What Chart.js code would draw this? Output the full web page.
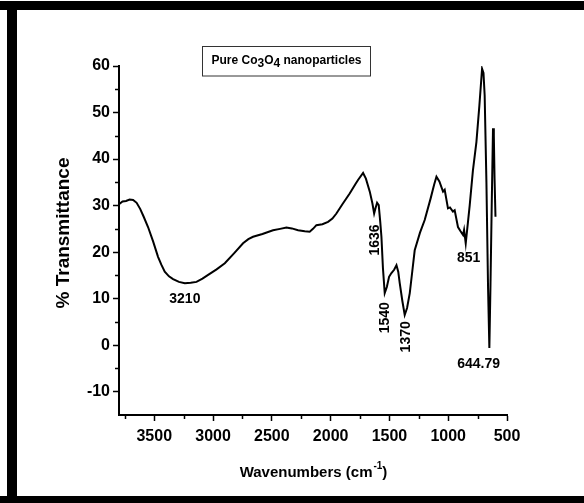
<!DOCTYPE html>
<html>
<head>
<meta charset="utf-8">
<script src="https://cdn.jsdelivr.net/npm/chart.js@4"></script>
<style>
  html, body { margin: 0; padding: 0; background: #fff; }
  #wrap { width: 584px; height: 503px; position: relative; }
</style>
</head>
<body>
<div id="wrap"><canvas id="ftir"></canvas></div>
<script>
// Espectro FTIR (número de onda em cm-1, % transmitância)
const wavenumbers = [
  3800, 3770, 3740, 3710, 3680, 3650, 3620, 3590, 3553, 3510, 3468, 3440, 3411, 3375, 3340, 3290,
  3240, 3190, 3141, 3090, 3042, 2970, 2900, 2820, 2745, 2700, 2660, 2580, 2490, 2430, 2376, 2330,
  2277, 2220, 2178, 2150, 2121, 2070, 2022, 1985, 1951, 1900, 1838, 1790, 1767, 1724, 1700, 1667,
  1645, 1630, 1618, 1605, 1591, 1578, 1568, 1555, 1540, 1522, 1503, 1483, 1460, 1440, 1425, 1412,
  1390, 1370, 1350, 1327, 1305, 1285, 1240, 1200, 1150, 1120, 1100, 1075, 1044, 1030, 1002, 985,
  960, 945, 917, 895, 874, 865, 851, 817, 790, 760, 735, 712, 700, 690, 675, 661, 650, 641, 630,
  619, 612, 606, 598
];
const transmittance = [
  30.3, 30.9, 31.0, 31.3, 31.2, 30.6, 29.3, 27.6, 25.4, 22.3, 19.0, 17.3, 15.8, 14.8, 14.2, 13.6,
  13.3, 13.4, 13.6, 14.3, 15.1, 16.3, 17.6, 19.8, 21.9, 22.8, 23.3, 23.9, 24.7, 25.0, 25.3, 25.1,
  24.7, 24.5, 24.4, 25.0, 25.8, 26.0, 26.5, 27.2, 28.3, 30.3, 32.6, 34.6, 35.5, 37.0, 35.8, 33.0,
  30.5, 28.3, 29.5, 30.6, 30.1, 26.5, 23.3, 16.5, 11.2, 12.5, 14.7, 15.5, 16.2, 17.2, 15.8, 13.3,
  9.5, 6.5, 8.0, 11.2, 16.0, 20.4, 24.2, 26.9, 31.5, 34.5, 36.2, 35.2, 33.0, 33.4, 29.4, 29.6,
  28.7, 29.0, 25.4, 24.5, 23.7, 24.8, 21.9, 30.1, 37.5, 43.7, 51.5, 59.4, 58.5, 53.7, 35.0, 12.2,
  -0.6, 12.2, 30.0, 46.6, 45.0, 36.0, 27.6
];

// Eixos
const xMin = 500, xMax = 3800;
const yMin = -15, yMax = 60;
const xTickValues = [500, 1000, 1500, 2000, 2500, 3000, 3500];
const yTickValues = [-10, 0, 10, 20, 30, 40, 50, 60];
const xMinorTicks = [750, 1250, 1750, 2250, 2750, 3250, 3750];
const yMinorTicks = [-5, 5, 15, 25, 35, 45, 55];

// Rótulos dos picos
const peakLabels = ['3210', '1636', '1540', '1370', '851', '644.79'];
const peakLabelPos = [
  { x: 3240, y: 9.9, rot: false },
  { x: 1625, y: 22.6, rot: true },
  { x: 1540, y: 5.9, rot: true },
  { x: 1355, y: 1.8, rot: true },
  { x: 826, y: 18.7, rot: false },
  { x: 741, y: -4.0, rot: false },
];

const FONT = '"Liberation Sans", Arial, sans-serif';

// Plugin para moldura, ticks menores, títulos e anotações
const decorPlugin = {
  id: 'decor',
  beforeDraw(chart) {
    const ctx = chart.ctx;
    ctx.save();
    ctx.fillStyle = '#fff';
    ctx.fillRect(0, 0, chart.width, chart.height);
    ctx.restore();
  },
  afterDraw(chart) {
    const ctx = chart.ctx;
    const xs = chart.scales.x, ys = chart.scales.y;
    const area = chart.chartArea;
    ctx.save();

    // moldura preta
    ctx.fillStyle = '#000';
    ctx.fillRect(0, 1, chart.width, 9);
    ctx.fillRect(7, 1, 10, chart.height);
    ctx.fillRect(0, 496, chart.width, 7);

    // ticks menores
    ctx.strokeStyle = '#000';
    ctx.lineWidth = 1.5;
    ctx.beginPath();
    xMinorTicks.forEach(v => {
      const px = Math.round(xs.getPixelForValue(v)) + 0.5;
      ctx.moveTo(px, area.bottom);
      ctx.lineTo(px, area.bottom + 4);
    });
    yMinorTicks.forEach(v => {
      const py = Math.round(ys.getPixelForValue(v)) + 0.5;
      ctx.moveTo(area.left, py);
      ctx.lineTo(area.left - 4, py);
    });
    ctx.stroke();

    // título do eixo Y
    ctx.fillStyle = '#000';
    ctx.font = 'bold 19px ' + FONT;
    ctx.textAlign = 'center';
    ctx.textBaseline = 'middle';
    ctx.save();
    ctx.translate(64, 233);
    ctx.rotate(-Math.PI / 2);
    ctx.fillText('% Transmittance', 0, 0);
    ctx.restore();

    // título do eixo X com sobrescrito
    const cx = (area.left + area.right) / 2;
    const main = 'Wavenumbers (cm';
    ctx.font = 'bold 15px ' + FONT;
    const w1 = ctx.measureText(main).width;
    ctx.font = 'bold 10px ' + FONT;
    const w2 = ctx.measureText('-1').width;
    ctx.font = 'bold 15px ' + FONT;
    const w3 = ctx.measureText(')').width;
    let x0 = cx - (w1 + w2 + w3) / 2;
    ctx.textAlign = 'left';
    ctx.fillText(main, x0, 473);
    ctx.font = 'bold 10px ' + FONT;
    ctx.fillText('-1', x0 + w1 + 1, 466);
    ctx.font = 'bold 15px ' + FONT;
    ctx.fillText(')', x0 + w1 + w2 + 1, 473);

    // caixa do título
    ctx.lineWidth = 1;
    ctx.strokeStyle = '#333';
    ctx.strokeRect(202.5, 46.5, 168, 29.5);
    const parts = [
      { t: 'Pure Co', sub: false }, { t: '3', sub: true }, { t: 'O', sub: false },
      { t: '4', sub: true }, { t: ' nanoparticles', sub: false },
    ];
    ctx.font = 'bold 12px ' + FONT;
    let total = 0;
    parts.forEach(p => { total += ctx.measureText(p.t).width; });
    let tx = 286.5 - total / 2;
    parts.forEach(p => {
      ctx.fillText(p.t, tx, p.sub ? 64 : 61);
      tx += ctx.measureText(p.t).width;
    });

    // rótulos dos picos
    ctx.font = 'bold 14px ' + FONT;
    ctx.textAlign = 'center';
    peakLabels.forEach((label, i) => {
      const pos = peakLabelPos[i];
      const px = xs.getPixelForValue(pos.x);
      const py = ys.getPixelForValue(pos.y);
      ctx.save();
      ctx.translate(px, py);
      if (pos.rot) ctx.rotate(-Math.PI / 2);
      ctx.fillText(label, 0, 0);
      ctx.restore();
    });

    ctx.restore();
  },
};

new Chart(document.getElementById('ftir').getContext('2d'), {
  type: 'line',
  data: {
    datasets: [{
      data: wavenumbers.map((w, i) => ({ x: w, y: transmittance[i] })),
      borderColor: '#000',
      borderWidth: 2,
      pointRadius: 0,
      tension: 0,
      fill: false,
    }],
  },
  options: {
    responsive: true,
    maintainAspectRatio: false,
    animation: false,
    layout: { padding: { top: 66, right: 77, left: 0, bottom: 0 } },
    plugins: {
      legend: { display: false },
      tooltip: { enabled: false },
    },
    scales: {
      x: {
        type: 'linear',
        reverse: true,
        min: xMin,
        max: xMax,
        afterBuildTicks: (scale) => { scale.ticks = xTickValues.map(v => ({ value: v })); },
        afterFit: (scale) => { scale.height = 88; },
        ticks: {
          color: '#000',
          padding: 6,
          maxRotation: 0,
          autoSkip: false,
          callback: (v) => String(v),
          font: { family: FONT, size: 16, weight: 'bold' },
        },
        grid: { drawOnChartArea: false, tickLength: 6, tickColor: '#000', tickWidth: 1.5 },
        border: { display: true, color: '#000', width: 2 },
      },
      y: {
        min: yMin,
        max: yMax,
        afterBuildTicks: (scale) => { scale.ticks = yTickValues.map(v => ({ value: v })); },
        afterFit: (scale) => { scale.width = 119; },
        ticks: {
          color: '#000',
          padding: 3,
          autoSkip: false,
          callback: (v) => String(v),
          font: { family: FONT, size: 16, weight: 'bold' },
        },
        grid: { drawOnChartArea: false, tickLength: 6, tickColor: '#000', tickWidth: 1.5 },
        border: { display: true, color: '#000', width: 2 },
      },
    },
  },
  plugins: [decorPlugin],
});
</script>
</body>
</html>
